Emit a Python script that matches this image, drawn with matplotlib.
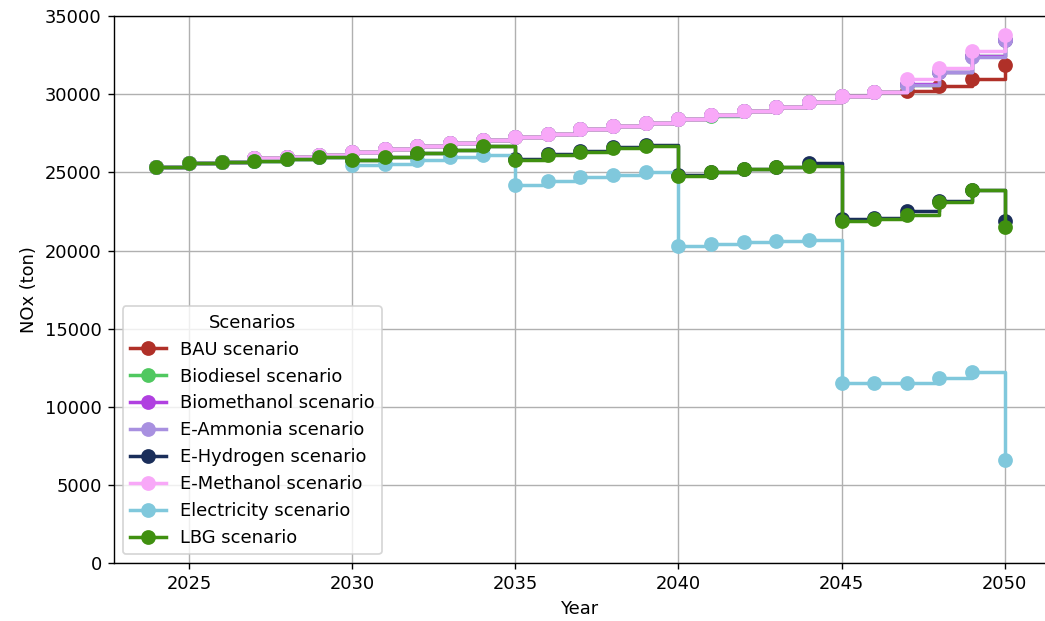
import numpy as np
import matplotlib
matplotlib.use('Agg')
import matplotlib.pyplot as plt

# NOx emissions per scenario, 2024-2050 (ton)
years = list(range(2024, 2051))

bau = [25370, 25580, 25650, 25900, 26000, 26100, 26340, 26500, 26680, 26870, 27090,
       27260, 27480, 27760, 27970, 28190, 28450, 28660, 28920, 29200, 29480,
       29910, 30170, 30200, 30560, 31000, 31850]
biodiesel = [25370, 25580, 25650, 25900, 26000, 26100, 26340, 26500, 26680, 26870, 27090,
             27260, 27480, 27760, 27970, 28190, 28450, 28600, 28900, 29200, 29480,
             29910, 30170, 30600, 31450, 32430, 33500]
biomethanol = [25370, 25580, 25650, 25900, 26000, 26100, 26340, 26500, 26680, 26870, 27090,
               27260, 27480, 27760, 27970, 28190, 28450, 28660, 28920, 29200, 29480,
               29910, 30170, 30650, 31450, 32450, 33500]
e_ammonia = [25370, 25580, 25650, 25900, 26000, 26100, 26340, 26500, 26680, 26870, 27090,
             27260, 27480, 27760, 27970, 28190, 28450, 28660, 28920, 29200, 29480,
             29910, 30170, 30600, 31400, 32400, 33450]
e_hydrogen = [25370, 25580, 25650, 25750, 25840, 26010, 25820, 26010, 26250, 26440, 26720,
              25850, 26150, 26350, 26600, 26750, 24850, 25050, 25250, 25380, 25600,
              22050, 22100, 22550, 23150, 23850, 21920]
e_methanol = [25370, 25580, 25650, 25950, 26000, 26100, 26340, 26500, 26680, 26870, 27090,
              27260, 27480, 27760, 27970, 28190, 28450, 28660, 28920, 29200, 29480,
              29910, 30170, 30990, 31680, 32800, 33770]
electricity = [25370, 25580, 25650, 25750, 25840, 26010, 25470, 25540, 25820, 25970, 26140,
               24200, 24460, 24680, 24850, 25000, 20320, 20450, 20560, 20640, 20700,
               11520, 11520, 11520, 11840, 12220, 6600]
lbg = [25370, 25580, 25650, 25750, 25840, 26010, 25820, 26010, 26250, 26440, 26720,
       25820, 26140, 26290, 26550, 26720, 24780, 25000, 25220, 25320, 25430,
       21920, 22000, 22300, 23120, 23850, 21520]

names = ['BAU scenario', 'Biodiesel scenario', 'Biomethanol scenario', 'E-Ammonia scenario',
         'E-Hydrogen scenario', 'E-Methanol scenario', 'Electricity scenario', 'LBG scenario']
series = [bau, biodiesel, biomethanol, e_ammonia, e_hydrogen, e_methanol, electricity, lbg]
colors = ['#b03028', '#50c860', '#b040e0', '#a890e0', '#1a2e5a', '#f8a8f8', '#80c8dc', '#409010']

##############################################################################

plt.rcParams['font.size'] = 10.3

fig = plt.figure(figsize=(8.36, 4.968), dpi=125)
ax = fig.add_subplot(111)
fig.subplots_adjust(left=0.109, right=1.002, top=0.974, bottom=0.093)

for name, vals, c in zip(names, series, colors):
    ax.plot(years, vals, drawstyle='steps-post', marker='o', color=c,
            linewidth=2, markersize=7.5, label=name)

ax.set_ylim(0, 35000)
ax.set_yticks(np.arange(0, 35001, 5000))
ax.set_xlabel('Year')
ax.set_ylabel('NOx (ton)')
ax.grid(True)
ax.legend(title='Scenarios', loc='lower left')

fig.savefig('out.png', dpi=125)
